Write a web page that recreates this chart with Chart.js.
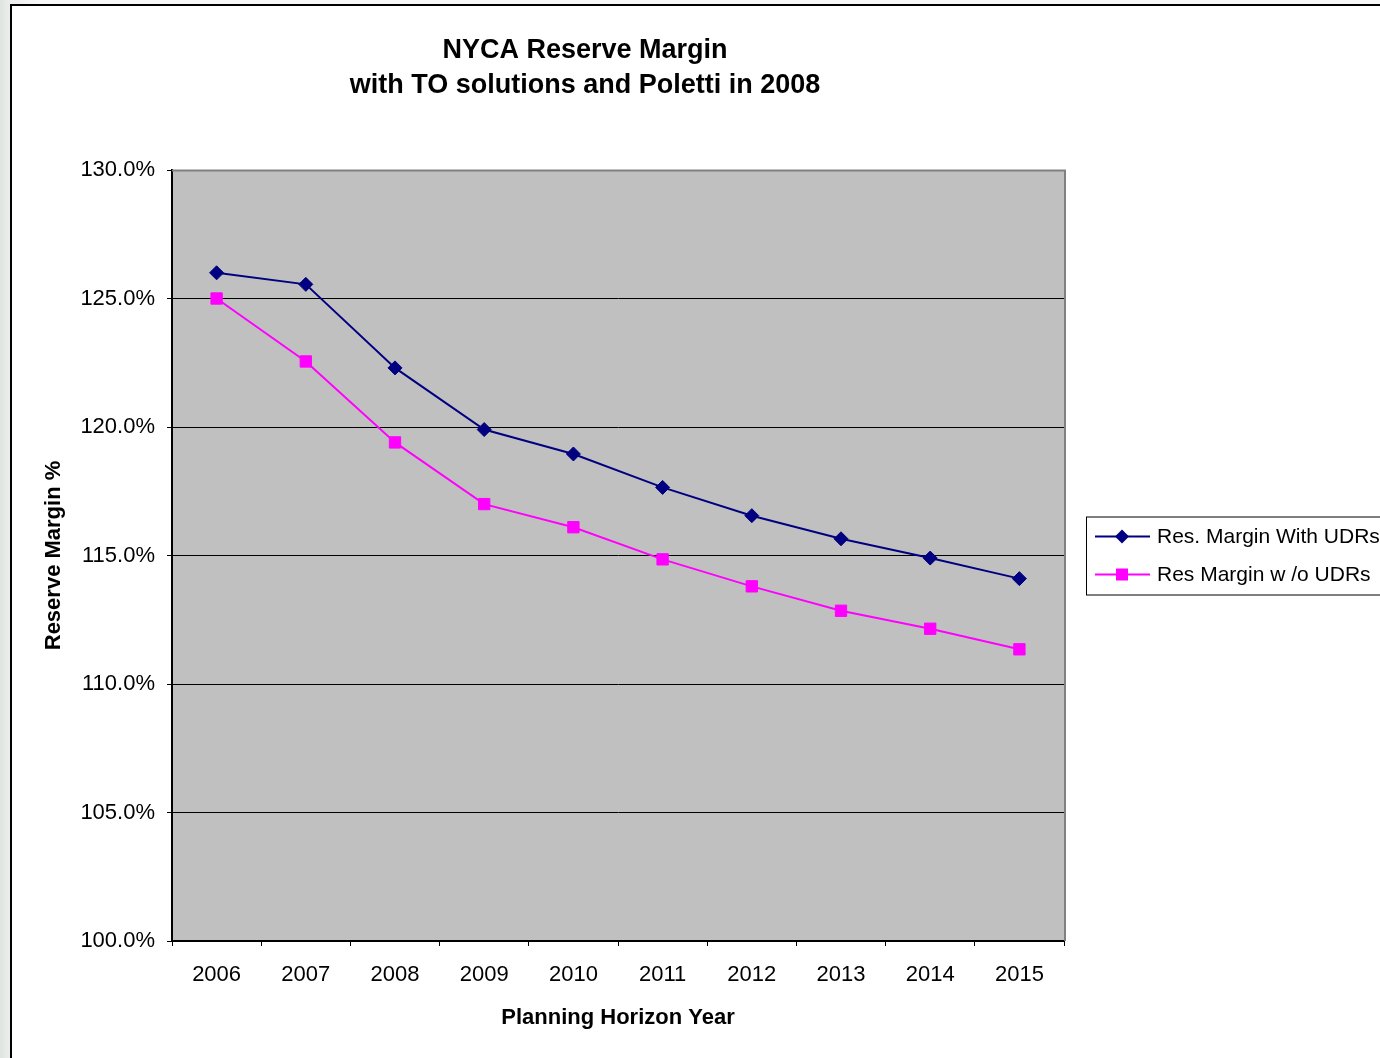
<!DOCTYPE html>
<html>
<head>
<meta charset="utf-8">
<title>NYCA Reserve Margin</title>
<script src="https://cdn.jsdelivr.net/npm/chart.js@4.4.1/dist/chart.umd.min.js"></script>
<style>
    html, body {
        margin: 0;
        padding: 0;
        overflow: hidden;
        width: 1380px;
        height: 1058px;
        background: linear-gradient(to right, #dfe4df 0px, #eceeec 10px, #f6f7f6 40px);
    }
    #frame {
        position: absolute;
        left: 10px;
        top: 4px;
        width: 1400px;
        height: 1070px;
        border-left: 2px solid #000;
        border-top: 2px solid #000;
        background: #fff;
    }
    #chart {
        display: block;
    }
</style>
</head>
<body>
<div id="frame">
    <canvas id="chart" width="1400" height="1060"></canvas>
</div>
<script>
const years = ["2006", "2007", "2008", "2009", "2010", "2011", "2012", "2013", "2014", "2015"];
const marginWithUDRs = [126.0, 125.55, 122.3, 119.9, 118.95, 117.65, 116.55, 115.65, 114.9, 114.1];
const marginWithoutUDRs = [125.0, 122.55, 119.4, 117.0, 116.1, 114.85, 113.8, 112.85, 112.15, 111.35];
const seriesNames = ["Res. Margin With UDRs", "Res Margin w /o UDRs"];
const titleLines = ["NYCA Reserve Margin", "with TO solutions and Poletti in 2008"];
const yMin = 100, yMax = 130, yStep = 5;

const FONT = "'Liberation Sans', Arial, sans-serif";
const NAVY = "#000080";
const MAGENTA = "#ff00ff";

// grey plot background + grey top/right edges like the Excel plot area
const plotArea = {
    id: "plotArea",
    beforeDraw(chart) {
        const { ctx, chartArea: a } = chart;
        ctx.save();
        ctx.fillStyle = "#c0c0c0";
        ctx.fillRect(a.left, a.top, a.right - a.left, a.bottom - a.top);
        ctx.restore();
    },
    beforeDatasetsDraw(chart) {
        const { ctx, chartArea: a } = chart;
        ctx.save();
        ctx.strokeStyle = "#808080";
        ctx.lineWidth = 2;
        ctx.beginPath();
        ctx.moveTo(a.left, a.top + 0.5);
        ctx.lineTo(a.right + 1, a.top + 0.5);
        ctx.lineTo(a.right + 1, a.bottom);
        ctx.stroke();
        ctx.restore();
    }
};

// two-line bold title, centred over the whole chart object
const chartTitle = {
    id: "chartTitle",
    afterDraw(chart) {
        const { ctx } = chart;
        ctx.save();
        ctx.fillStyle = "#000";
        ctx.font = "bold 27px " + FONT;
        ctx.textAlign = "center";
        ctx.textBaseline = "middle";
        ctx.fillText(titleLines[0], 573, 45);
        ctx.fillText(titleLines[1], 573, 80);
        ctx.restore();
    }
};

function drawMarker(ctx, style, x, y, color) {
    ctx.fillStyle = color;
    ctx.beginPath();
    if (style === "rectRot") {
        ctx.moveTo(x - 7, y);
        ctx.lineTo(x, y - 7);
        ctx.lineTo(x + 7, y);
        ctx.lineTo(x, y + 7);
        ctx.closePath();
    } else {
        ctx.rect(x - 6, y - 6, 12, 12);
    }
    ctx.fill();
}

// boxed legend to the right of the plot, line + marker samples
const boxLegend = {
    id: "boxLegend",
    afterDraw(chart) {
        const { ctx, chartArea: a } = chart;
        const left = a.right + 22;
        const mid = (a.top + a.bottom) / 2;
        const top = mid - 39;
        ctx.save();
        ctx.fillStyle = "#fff";
        ctx.fillRect(left, top, 400, 78);
        ctx.strokeStyle = "#000";
        ctx.lineWidth = 1;
        ctx.strokeRect(left + 0.5, top + 0.5, 400, 78);

        chart.data.datasets.forEach((ds, i) => {
            const y = mid - 19 + i * 38;
            ctx.strokeStyle = ds.borderColor;
            ctx.lineWidth = 2;
            ctx.beginPath();
            ctx.moveTo(left + 9, y);
            ctx.lineTo(left + 64, y);
            ctx.stroke();
            drawMarker(ctx, ds.pointStyle, left + 36, y, ds.pointBackgroundColor);

            ctx.fillStyle = "#000";
            ctx.font = "21px " + FONT;
            ctx.textAlign = "left";
            ctx.textBaseline = "middle";
            ctx.fillText(ds.label, left + 71, y + 1);
        });
        ctx.restore();
    }
};

new Chart(document.getElementById("chart"), {
    type: "line",
    data: {
        labels: years,
        datasets: [
            {
                label: seriesNames[0],
                data: marginWithUDRs,
                borderColor: NAVY,
                backgroundColor: NAVY,
                pointBackgroundColor: NAVY,
                pointBorderColor: NAVY,
                pointStyle: "rectRot",
                pointRadius: 7,
                pointBorderWidth: 1,
                borderWidth: 2,
                tension: 0
            },
            {
                label: seriesNames[1],
                data: marginWithoutUDRs,
                borderColor: MAGENTA,
                backgroundColor: MAGENTA,
                pointBackgroundColor: MAGENTA,
                pointBorderColor: MAGENTA,
                pointStyle: "rect",
                pointRadius: 8,
                pointBorderWidth: 1,
                borderWidth: 2,
                tension: 0
            }
        ]
    },
    options: {
        responsive: false,
        animation: false,
        layout: {
            padding: { top: 164, right: 348, bottom: 0, left: 0 }
        },
        plugins: {
            legend: { display: false },
            title: { display: false },
            tooltip: { enabled: false }
        },
        scales: {
            x: {
                offset: true,
                afterFit(scale) { scale.height = 125; },
                grid: {
                    offset: true,
                    drawOnChartArea: false,
                    drawTicks: true,
                    tickLength: 5,
                    color: "#000",
                    lineWidth: 1
                },
                border: { display: true, color: "#000", width: 2 },
                ticks: {
                    color: "#000",
                    padding: 16,
                    maxRotation: 0,
                    font: { family: FONT, size: 22 }
                },
                title: {
                    display: true,
                    text: "Planning Horizon Year",
                    color: "#000",
                    padding: { top: 0, bottom: 35 },
                    font: { family: FONT, size: 22, weight: "bold" }
                }
            },
            y: {
                min: yMin,
                max: yMax,
                afterFit(scale) { scale.width = 160; },
                grid: {
                    color: ctx => (ctx.tick && ctx.tick.value === yMax ? "#808080" : "#000"),
                    lineWidth: 1,
                    tickLength: 5,
                    tickColor: "#000"
                },
                border: { display: true, color: "#000", width: 2 },
                ticks: {
                    stepSize: yStep,
                    color: "#000",
                    padding: 12,
                    font: { family: FONT, size: 22 },
                    callback: v => v.toFixed(1) + "%"
                },
                title: {
                    display: true,
                    text: "Reserve Margin %",
                    color: "#000",
                    padding: { top: 29, bottom: 0 },
                    font: { family: FONT, size: 22, weight: "bold" }
                }
            }
        }
    },
    plugins: [plotArea, chartTitle, boxLegend]
});
</script>
</body>
</html>
